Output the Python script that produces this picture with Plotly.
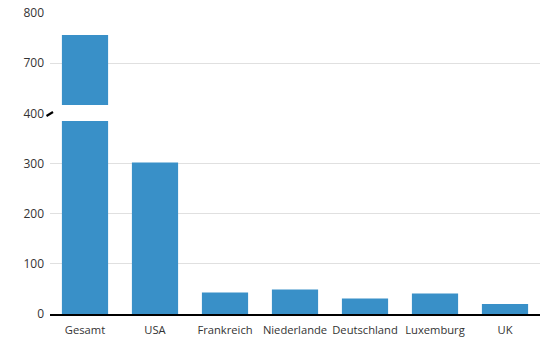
import plotly.graph_objects as go
from plotly.subplots import make_subplots

categories = ["Gesamt", "USA", "Frankreich", "Niederlande", "Deutschland", "Luxemburg", "UK"]
values = [756, 302, 43, 49, 31, 41, 20]
lower_ticks = [0, 100, 200, 300, 400]
upper_ticks = [700, 800]
break_low = 400
break_high = 600
axis_top = 800

BAR = "#3990c8"
GRID = "#e0e0e0"
FONT = dict(family="Open Sans, Segoe UI, sans-serif", size=11.2, color="#333333")
YFONT = dict(family="Open Sans, Segoe UI, sans-serif", size=12, color="#333333")

W, H = 547, 338
ML, MR, MT, MB = 50, 7, 13, 24
plot_h = H - MT - MB
lower_frac = (break_low - 0) / ((break_low - 0) + (axis_top - break_high))

fig = make_subplots(rows=2, cols=1, shared_xaxes=True, vertical_spacing=0,
                    row_heights=[1 - lower_frac, lower_frac])

for r in (1, 2):
    fig.add_trace(go.Bar(x=categories, y=values, marker_color=BAR,
                         marker_line_width=0, width=0.66, showlegend=False,
                         hoverinfo="x+y"), row=r, col=1)

fig.update_yaxes(row=1, col=1, range=[break_high, axis_top], tickvals=upper_ticks,
                 showgrid=True, gridcolor=GRID, gridwidth=1, zeroline=False,
                 tickfont=YFONT, ticks="", showline=False, automargin=False,
                 ticklabelstandoff=5)
fig.update_yaxes(row=2, col=1, range=[0, break_low], tickvals=lower_ticks,
                 showgrid=True, gridcolor=GRID, gridwidth=1, zeroline=False,
                 tickfont=YFONT, ticks="", showline=False, automargin=False,
                 ticklabelstandoff=5)
fig.update_xaxes(row=1, col=1, showticklabels=False, showline=False, showgrid=False,
                 ticks="", automargin=False)
fig.update_xaxes(row=2, col=1, showline=True, linecolor="black", linewidth=1.5,
                 showgrid=False, tickfont=FONT, ticks="", tickangle=0, automargin=False,
                 ticklabelstandoff=5)

def px_x(p):
    return (p - ML) / (W - ML - MR)

def px_y(p):
    return (H - MB - p) / plot_h

# white gap across the broken bar
fig.add_shape(type="rect", xref="x2", yref="paper", x0=-0.35, x1=0.35,
              y0=px_y(121), y1=px_y(105), fillcolor="white", line_width=0, layer="above")
# break marker next to axis
fig.add_shape(type="line", xref="paper", yref="paper", x0=px_x(46.5), x1=px_x(53),
              y0=px_y(116), y1=px_y(112), line=dict(color="black", width=2.2))

fig.update_layout(width=W, height=H, margin=dict(l=ML, r=MR, t=MT, b=MB),
                  plot_bgcolor="white", paper_bgcolor="white", bargap=0.34,
                  font=FONT)

fig.write_html("out.html")
